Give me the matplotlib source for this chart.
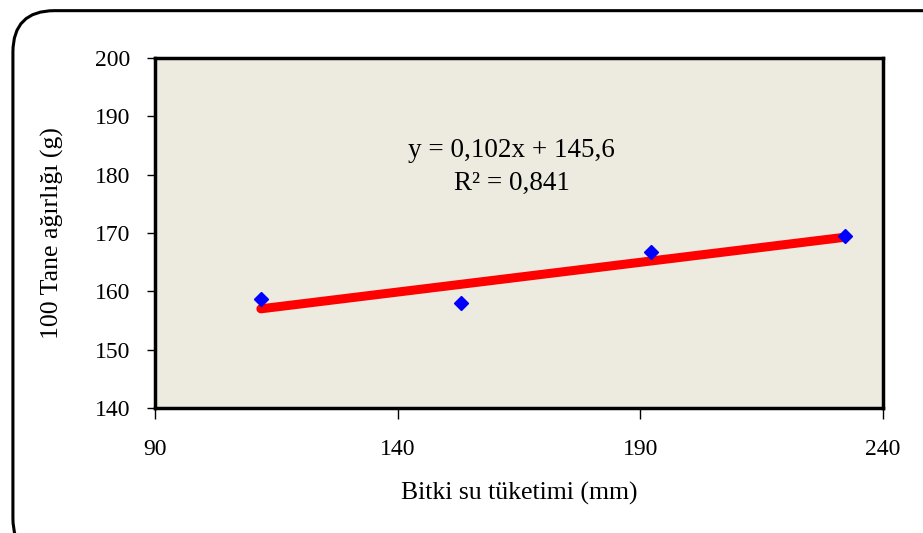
import matplotlib
matplotlib.use('Agg')
import numpy as np
from matplotlib import pyplot as plt
from matplotlib.patches import FancyBboxPatch

# Data
su_tuketimi = [111.8, 153.0, 192.2, 232.2]      # Bitki su tüketimi (mm)
tane_agirligi = [158.7, 158.0, 166.7, 169.5]    # 100 Tane ağırlığı (g)
egim = 0.102
kesim = 145.6
r_kare = 0.841

x_ticks = [90, 140, 190, 240]
y_ticks = [140, 150, 160, 170, 180, 190, 200]

plt.rcParams['font.family'] = ['Liberation Serif', 'DejaVu Serif']

fig = plt.figure(figsize=(9.23, 5.33), dpi=100)
ax = fig.add_axes([0.168, 0.2345, 0.7887, 0.6566])
ax.set_facecolor('#EDEBE0')

# Rounded outer frame of the chart
frame = FancyBboxPatch((0.014, -0.05), 1.1, 1.03, boxstyle='round,pad=0,rounding_size=0.045',
                       transform=fig.transFigure, fill=False, lw=2.2, ec='black',
                       mutation_aspect=923/533)
fig.patches.append(frame)

# Trend line
xl = np.array([min(su_tuketimi), max(su_tuketimi)])
ax.plot(xl, egim * xl + kesim, color='red', lw=6.5, solid_capstyle='round', zorder=2)
ax.plot(su_tuketimi, tane_agirligi, 'D', color='blue', ms=7, zorder=3)

ax.text(0.49, 0.737, 'y = 0,102x + 145,6', transform=ax.transAxes, ha='center', va='center',
        fontsize=19.5)
ax.text(0.49, 0.643, 'R² = 0,841', transform=ax.transAxes, ha='center', va='center',
        fontsize=19.5)

ax.set_xlim(90, 240)
ax.set_ylim(140, 200)
ax.set_xticks(x_ticks)
ax.set_yticks(y_ticks)
ax.tick_params(axis='x', direction='out', length=8, width=1, pad=14, labelsize=17)
ax.tick_params(axis='y', direction='out', length=6, width=1, pad=12, labelsize=17)
for s in ax.spines.values():
    s.set_linewidth(2.5)

ax.set_xlabel('Bitki su tüketimi (mm)', fontsize=18.5, labelpad=16)
ax.set_ylabel('100 Tane ağırlığı (g)', fontsize=18.5, labelpad=22)

fig.savefig('out.png', dpi=100)
